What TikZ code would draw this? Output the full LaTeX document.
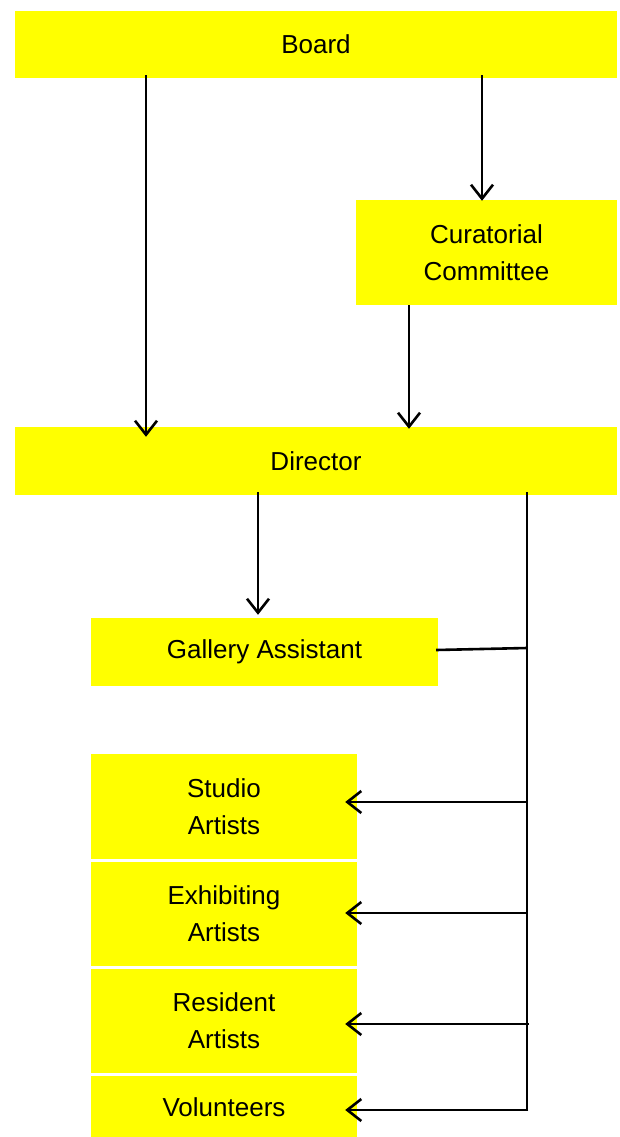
\documentclass[tikz,border=0pt]{standalone}
\usepackage{fontspec}
\setmainfont{Liberation Sans}
\usetikzlibrary{arrows.meta,calc}
\definecolor{boxyellow}{RGB}{255,255,0}
\begin{document}
\begin{tikzpicture}[x=1pt,y=-1pt,
  box/.style={fill=boxyellow, inner sep=0pt, font=\fontsize{26}{37}\selectfont, align=center, anchor=center},
  conn/.style={line width=2.6pt, draw=black},
  arr/.style={conn, -{Straight Barb[length=14pt,width=22pt,line width=2.6pt]}}]
\useasboundingbox (0,0) rectangle (620,1137);
\node[box, minimum width=602, minimum height=67] (board) at (316,44.5) {Board};
\node[box, minimum width=261, minimum height=105] (cur) at (486.5,252.5) {Curatorial\\Committee};
\node[box, minimum width=602, minimum height=68] (dir) at (316,461) {Director};
\node[box, minimum width=347, minimum height=68] (ga) at (264.5,652) {Gallery Assistant};
\node[box, minimum width=266, minimum height=105] (studio) at (224,806.5) {Studio\\Artists};
\node[box, minimum width=266, minimum height=104] (exh) at (224,914) {Exhibiting\\Artists};
\node[box, minimum width=266, minimum height=104] (res) at (224,1021) {Resident\\Artists};
\node[box, minimum width=266, minimum height=62] (vol) at (224,1107) {Volunteers};
\coordinate (j0) at (dir.south -| 527,0);
\coordinate (jga) at (527,648);
\coordinate (j1) at (527,802);
\coordinate (j2) at (527,913);
\coordinate (j3) at (527,1024);
\coordinate (j4) at (527,1110);
% arrows from board
\draw[arr] ($(board.south -| 146,0)+(0,-3)$) -- ($(dir.north -| 146,0)+(0,10)$);
\draw[arr] ($(board.south -| 482,0)+(0,-3)$) -- ($(cur.north -| 482,0)+(0,1)$);
\draw[arr] (cur.south -| 409,0) -- ($(dir.north -| 409,0)+(0,2)$);
\draw[arr] ($(dir.south -| 258,0)+(0,-3)$) -- ($(ga.north -| 258,0)+(0,-3)$);
% director bus
\draw[conn] ($(j0)+(0,-3)$) -- (j4);
\draw[conn] ($(ga.east |- 0,650)+(-2,0)$) -- (jga);
\draw[arr] (j1) -- ($(studio.east |- j1)+(-12,0)$);
\draw[arr] (j2) -- ($(exh.east |- j2)+(-12,0)$);
\draw[arr] ($(j3)+(2,0)$) -- ($(res.east |- j3)+(-12,0)$);
\draw[arr] ($(j4)+(1.3,0)$) -- ($(vol.east |- j4)+(-12,0)$);
\end{tikzpicture}
\end{document}
